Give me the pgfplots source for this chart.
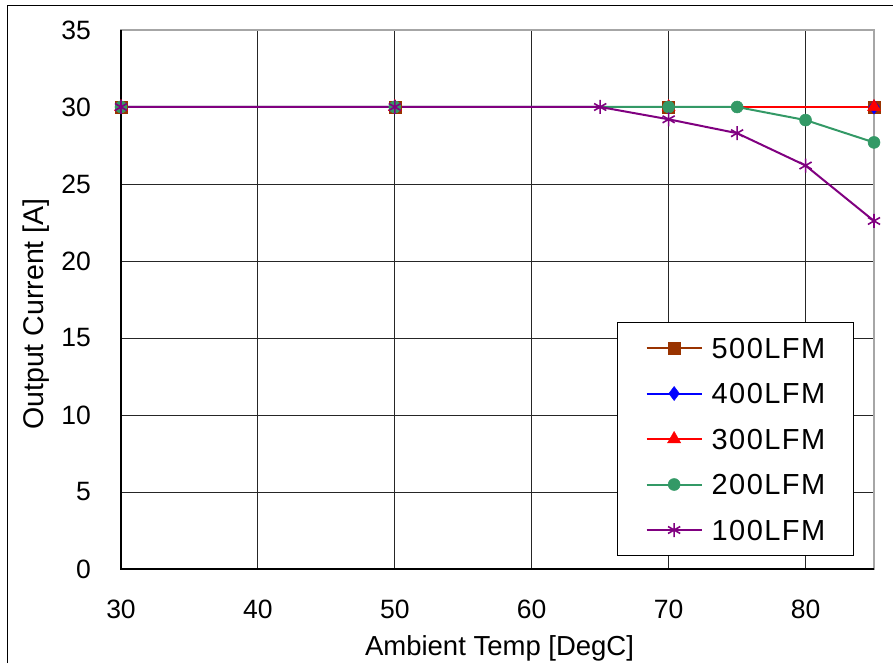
\documentclass[border=0pt]{standalone}
\usepackage{fontspec}
\setmainfont{Liberation Sans}
\newfontfamily\legfont[LetterSpace=5]{Liberation Sans}
\usepackage{pgfplots}
\pgfplotsset{compat=1.18}
\definecolor{cbrown}{HTML}{993300}
\definecolor{cblue}{HTML}{0000FF}
\definecolor{cred}{HTML}{FF0000}
\definecolor{cgreen}{HTML}{339966}
\definecolor{cpurple}{HTML}{800080}
\begin{document}
\begin{tikzpicture}
\begin{axis}[
  scale only axis, width=753pt, height=539pt,
  xmin=30, xmax=85, ymin=0, ymax=35,
  xtick={30,40,50,60,70,80}, ytick={0,5,10,15,20,25,30,35},
  clip=false,
  /pgf/number format/assume math mode=true,
  tick style={draw=none},
  grid=major, major grid style={black!85, line width=1pt},
  axis line style={draw=gray!70, line width=1.5pt},
  ticklabel style={font=\fontsize{26.5}{32}\selectfont, inner sep=0pt},
  yticklabel shift=30pt,
  xticklabel shift=31pt,
  every axis x label/.style={at={(rel axis cs:0.5027,-0.1596)}, anchor=base, font=\fontsize{27.5}{32}\selectfont},
  every axis y label/.style={at={(rel axis cs:-0.1023,0.473)}, anchor=base, rotate=90, font=\fontsize{28.5}{32}\selectfont},
  xlabel={Ambient Temp [DegC]},
  ylabel={Output Current [A]},
  legend style={at={(rel axis cs:0.816,0.2412)}, anchor=center, draw=black, line width=1pt,
    font=\legfont\fontsize{29}{32}\selectfont, inner xsep=28pt, inner ysep=15pt,
    nodes={inner sep=0pt, text height=20.5pt, text depth=0pt, anchor=west},
    row sep=25pt, column sep=9pt},
  legend cell align=left,
  legend image code/.code={\draw[mark repeat=2,mark phase=2,#1] plot coordinates {(0pt,0pt)(27.5pt,0pt)(55pt,0pt)};},
]
\addplot[cbrown, line width=2pt, mark=square*, mark size=6pt, mark options={solid, line width=0.5pt}] coordinates {(30,30)(50,30)(70,30)(85,30)};
\addlegendentry{500LFM}
\addplot[cblue, line width=2pt, mark=diamond*, mark size=7pt, mark options={solid, line width=0.5pt}] coordinates {(30,30)(50,30)(70,30)(85,30)};
\addlegendentry{400LFM}
\addplot[cred, line width=2pt, mark=triangle*, mark size=7.5pt, mark options={solid, line width=0.5pt}] coordinates {(30,30)(50,30)(70,30)(85,30)};
\addlegendentry{300LFM}
\addplot[cgreen, line width=2pt, mark=*, mark size=6pt, mark options={solid, line width=0.5pt}] coordinates {(30,30)(50,30)(70,30)(75,30)(80,29.15)(85,27.7)};
\addlegendentry{200LFM}
\addplot[cpurple, line width=2pt, mark=asterisk, mark size=7pt, mark options={solid, line width=1.6pt}] coordinates {(30,30)(50,30)(65,30)(70,29.2)(75,28.3)(80,26.2)(85,22.6)};
\addlegendentry{100LFM}
\draw[black, line width=1.5pt] (rel axis cs:0,1) -- (rel axis cs:0,0) -- (rel axis cs:1,0);
\draw[black, line width=1.5pt] (rel axis cs:-0.15073,-0.1744) -- (rel axis cs:-0.15073,1.04545) -- (rel axis cs:1.02523,1.04545);
\coordinate (bbl) at (rel axis cs:-0.16069,-0.17440);
\coordinate (btr) at (rel axis cs:1.02523,1.05566);
\end{axis}
\pgfresetboundingbox
\useasboundingbox (bbl) rectangle (btr);
\end{tikzpicture}
\end{document}
